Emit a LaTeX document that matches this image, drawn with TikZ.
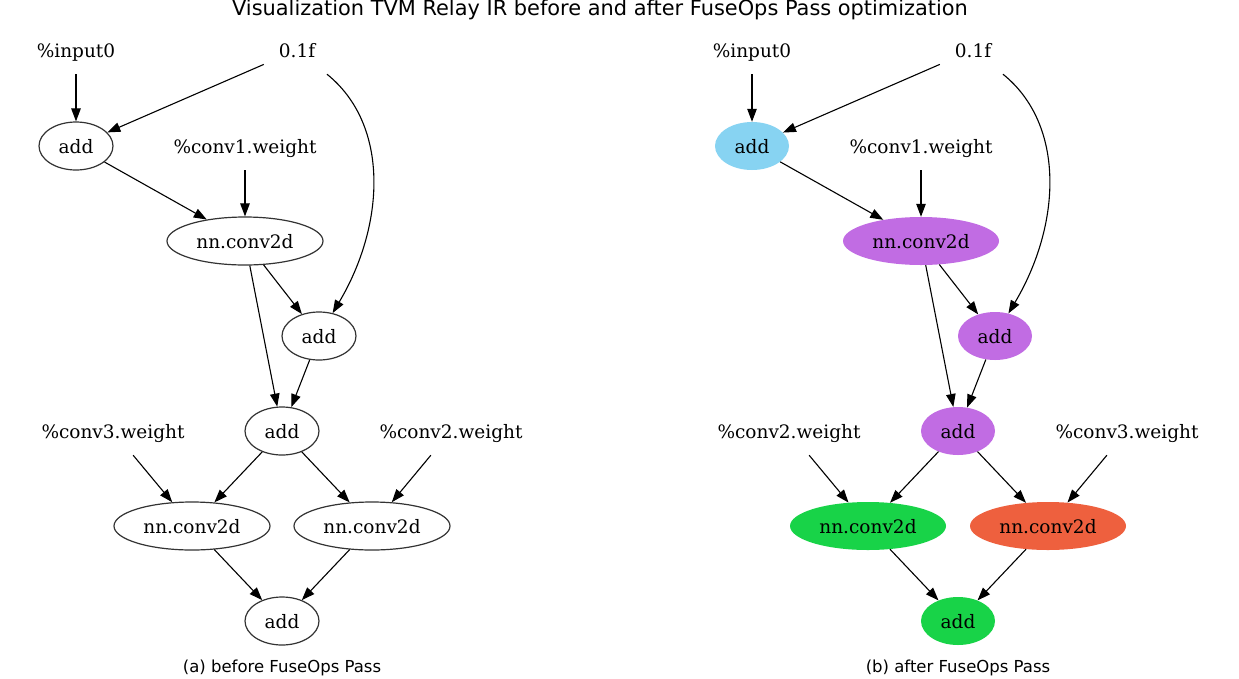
\documentclass[tikz,border=0pt]{standalone}
\usepackage{fontspec}
\setmainfont{DejaVu Serif}
\newfontfamily\sansf{DejaVu Sans}
\usetikzlibrary{arrows.meta,shapes.geometric}
\definecolor{cblue}{RGB}{135,211,242}
\definecolor{cpurple}{RGB}{193,108,227}
\definecolor{cgreen}{RGB}{24,211,72}
\definecolor{corange}{RGB}{238,96,62}
\begin{document}
\begin{tikzpicture}[x=1pt,y=1pt,
  lblfont/.style={font=\fontsize{18.5}{20}\selectfont,text height=16pt,text depth=1pt},
  lbl/.style={rectangle,inner sep=0pt,minimum width=66pt,minimum height=48pt,lblfont},
  op/.style={ellipse,inner sep=0pt,minimum width=74pt,minimum height=48pt,lblfont},
  opw/.style={op,minimum width=156pt},
  plainop/.style={draw=black!80,line width=1.2pt},
  edge/.style={-{Triangle[length=13pt,width=9.5pt]},line width=1.1pt,black},
  title/.style={font=\sansf\fontsize{20.9}{23}\selectfont},
  caption/.style={font=\sansf\fontsize{16.5}{18}\selectfont},
]
\useasboundingbox (0,0) rectangle (1239,-678);
\node[title] (ttl) at (600,-10) {Visualization TVM Relay IR before and after FuseOps Pass optimization};
\node[caption] (capa) at (282,-668) {(a) before FuseOps Pass};
\node[caption] (capb) at (958,-668) {(b) after FuseOps Pass};

% ---------- left graph
\node[lbl] (in0) at (76,-50) {\%input0};
\node[lbl] (f) at (297,-50) {0.1f};
\node[op,plainop] (a1) at (76,-146) {add};
\node[lbl] (w1) at (245,-146) {\%conv1.weight};
\node[opw,plainop] (c1) at (245,-241) {nn.conv2d};
\node[op,plainop] (a2) at (319,-336) {add};
\node[op,plainop] (a3) at (282,-431) {add};
\node[lbl] (w3) at (113,-431) {\%conv3.weight};
\node[lbl] (w2) at (451,-431) {\%conv2.weight};
\node[opw,plainop] (cA) at (192,-526) {nn.conv2d};
\node[opw,plainop] (cB) at (372,-526) {nn.conv2d};
\node[op,plainop] (a4) at (282,-621) {add};

\draw[edge] (in0) -- (a1);
\draw[edge] (f) -- (a1);
\draw[edge] (f) .. controls (390,-125) and (385,-225) .. (a2);
\draw[edge] (a1) -- (c1);
\draw[edge] (w1) -- (c1);
\draw[edge] (c1) -- (a2);
\draw[edge] (c1) -- (a3);
\draw[edge] (a2) -- (a3);
\draw[edge] (w3) -- (cA);
\draw[edge] (a3) -- (cA);
\draw[edge] (a3) -- (cB);
\draw[edge] (w2) -- (cB);
\draw[edge] (cA) -- (a4);
\draw[edge] (cB) -- (a4);

% ---------- right graph
\node[lbl] (rin0) at (752,-50) {\%input0};
\node[lbl] (rf) at (973,-50) {0.1f};
\node[op,fill=cblue] (ra1) at (752,-146) {add};
\node[lbl] (rw1) at (921,-146) {\%conv1.weight};
\node[opw,fill=cpurple] (rc1) at (921,-241) {nn.conv2d};
\node[op,fill=cpurple] (ra2) at (995,-336) {add};
\node[op,fill=cpurple] (ra3) at (958,-431) {add};
\node[lbl] (rw2) at (789,-431) {\%conv2.weight};
\node[lbl] (rw3) at (1127,-431) {\%conv3.weight};
\node[opw,fill=cgreen] (rcA) at (868,-526) {nn.conv2d};
\node[opw,fill=corange] (rcB) at (1048,-526) {nn.conv2d};
\node[op,fill=cgreen] (ra4) at (958,-621) {add};

\draw[edge] (rin0) -- (ra1);
\draw[edge] (rf) -- (ra1);
\draw[edge] (rf) .. controls (1066,-125) and (1061,-225) .. (ra2);
\draw[edge] (ra1) -- (rc1);
\draw[edge] (rw1) -- (rc1);
\draw[edge] (rc1) -- (ra2);
\draw[edge] (rc1) -- (ra3);
\draw[edge] (ra2) -- (ra3);
\draw[edge] (rw2) -- (rcA);
\draw[edge] (ra3) -- (rcA);
\draw[edge] (ra3) -- (rcB);
\draw[edge] (rw3) -- (rcB);
\draw[edge] (rcA) -- (ra4);
\draw[edge] (rcB) -- (ra4);
\end{tikzpicture}
\end{document}
